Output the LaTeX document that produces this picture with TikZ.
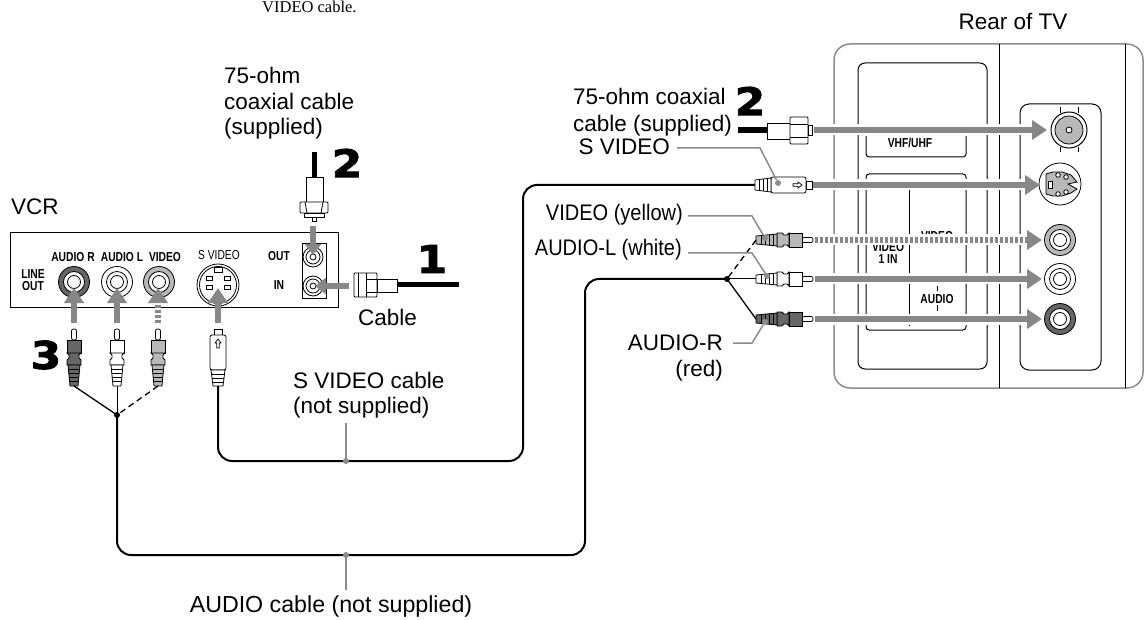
\documentclass[tikz,border=0pt]{standalone}
\usepackage{fontspec}
\setmainfont{Liberation Sans}
\newfontfamily\serifnote{Liberation Serif}
\newfontfamily\panelfont[FakeStretch=0.79]{Liberation Sans}
\newfontfamily\narrowfont[FakeStretch=0.89]{Liberation Sans}
\newfontfamily\stepfont[FakeStretch=1.15,FakeBold=2.5]{DejaVu Sans Bold}
\usetikzlibrary{arrows.meta}
\definecolor{arrowgray}{gray}{0.53}
\definecolor{leadgray}{gray}{0.55}
\definecolor{jackdark}{gray}{0.4}
\definecolor{jackmid}{gray}{0.72}
\tikzset{
  lbl/.style={font=\fontsize{22.5}{25.5}\selectfont,inner sep=0pt},
  narrowlbl/.style={font=\narrowfont\fontsize{22.5}{25.5}\selectfont,inner sep=0pt},
  panellbl/.style={font=\panelfont\bfseries\fontsize{13}{14}\selectfont,inner sep=0pt,align=center},
  stepnum/.style={font=\stepfont\fontsize{38}{38}\selectfont,inner sep=0pt},
  bigarrow/.style={arrowgray,line width=6pt,-{Triangle[length=15pt,width=19pt]}},
  dotarrow/.style={bigarrow,dash pattern=on 3pt off 2pt},
  halo/.style={white,line width=11pt,shorten >=15pt},
  leader/.style={leadgray,line width=1.5pt},
  leaddot/.style={circle,fill=leadgray,inner sep=0pt,minimum size=6pt},
  cable/.style={black,line width=2pt,rounded corners=14pt},
  dashwire/.style={line width=1.3pt,dash pattern=on 6pt off 4pt},
  pics/rcaplug/.style={code={
    \draw[line width=.8pt,fill=white,rounded corners=2pt] (-2.5,0) rectangle (2.5,11);
    \draw[line width=.8pt,fill=#1] (-7,11) rectangle (7,24);
    \draw[line width=.8pt,fill=#1] (-7,24) -- (-5,26) -- (-5,29) -- (-7,31) -- (-7,36) -- (7,36) -- (7,31) -- (5,29) -- (5,26) -- (7,24) -- cycle;
    \draw[line width=.8pt,fill=#1] (-6,36) -- (-4,57) -- (4,57) -- (6,36) -- cycle;
    \draw[line width=.7pt] (-5.6,40) -- (5.6,40) (-5.3,44) -- (5.3,44) (-4.9,48) -- (4.9,48) (-4.6,52) -- (4.6,52);
  }},
  pics/svplug/.style={code={
    \draw[line width=.8pt,fill=white] (-4,0) rectangle (4,6);
    \draw[line width=.8pt,fill=white,rounded corners=2pt] (-8,6) -- (8,6) -- (8,41) -- (-8,41) -- cycle;
    \draw[line width=.7pt] (0,10) -- (-3,14) -- (-1.3,14) -- (-1.3,19) -- (1.3,19) -- (1.3,14) -- (3,14) -- cycle;
    \draw[line width=.8pt,fill=white] (-7,41) -- (-5,57) -- (5,57) -- (7,41) -- cycle;
    \draw[line width=.7pt] (-6.5,45) -- (6.5,45) (-6,49) -- (6,49) (-5.6,53) -- (5.6,53);
  }},
  pics/rcajack/.style={code={
    \draw[line width=.8pt,fill=#1] (0,0) circle (15.5);
    \draw[line width=.8pt,fill=white] (0,0) circle (10.5);
    \draw[line width=.8pt,fill=white] (0,0) circle (6.5);
  }},
  pics/coaxjack/.style={code={
    \draw[line width=.8pt,fill=white] (0,0) circle (10);
    \draw[line width=.8pt] (0,0) circle (7);
    \draw[line width=.8pt] (0,0) circle (3);
  }}
}
\begin{document}
\begin{tikzpicture}[x=1pt,y=-1pt]
    \useasboundingbox (0,0) rectangle (1148,620);

    % top line and labels
    \node[font=\serifnote\fontsize{16.5}{18}\selectfont,inner sep=0pt,anchor=base west] (topnote) at (262,13) {VIDEO cable.};
    \node[lbl,anchor=base] (reartv) at (1013,30) {Rear of TV};
    \node[lbl,anchor=base west] (vcrlabel) at (11,215) {VCR};
    \node[lbl,anchor=base west] (coaxa) at (224,84) {75-ohm};
    \node[lbl,anchor=base west] (coaxb) at (224,110) {coaxial cable};
    \node[lbl,anchor=base west] (coaxc) at (224,135) {(supplied)};
    \node[lbl,anchor=base west] (cablelabel) at (358,325) {Cable};
    \node[lbl,anchor=base west] (svcablea) at (293,388) {S VIDEO cable};
    \node[lbl,anchor=base west] (svcableb) at (293,413) {(not supplied)};
    \node[lbl,font=\fontsize{23.2}{26}\selectfont,anchor=base] (audiocable) at (331,612) {AUDIO cable (not supplied)};
    \node[lbl,anchor=base west] (tvcoaxa) at (573,105) {75-ohm coaxial};
    \node[lbl,anchor=base west] (tvcoaxb) at (573,132) {cable (supplied)};
    \node[lbl,anchor=base east] (tvsv) at (670,155) {S VIDEO};
    \node[narrowlbl,anchor=base east] (tvvideo) at (683,221) {VIDEO (yellow)};
    \node[narrowlbl,anchor=base east] (tvaudl) at (682,256) {AUDIO-L (white)};
    \node[lbl,anchor=base east] (tvaudr) at (723,350) {AUDIO-R};
    \node[lbl,anchor=base east] (tvred) at (723,376) {(red)};

    % step numbers
    \node[stepnum] (stepone) at (432,259) {1};
    \node[stepnum] (steptwo) at (347,163) {2};
    \node[stepnum] (steptwotv) at (750,101) {2};
    \node[stepnum] (stepthree) at (46,355) {3};

    % VCR panel
    \draw [line width=1pt] (10,233) rectangle (338,307);
    \node[panellbl] (paudr) at (73,257) {AUDIO R};
    \node[panellbl] (paudl) at (122,257) {AUDIO L};
    \node[panellbl] (pvideo) at (165,257) {VIDEO};
    \node[font=\panelfont\fontsize{13}{14}\selectfont,inner sep=0pt] (psvideo) at (219,255) {S VIDEO};
    \node[panellbl] (pout) at (279,256) {OUT};
    \node[panellbl] (pin) at (279,285) {IN};
    \node[panellbl] (pline) at (33,280) {LINE\\[-2pt]OUT};
    \pic at (74,282) {rcajack=jackdark};
    \pic at (117,282) {rcajack=white};
    \pic at (159,282) {rcajack=jackmid};
    \draw [line width=.8pt,fill=white] (218,285) circle (21);
    \draw [line width=.8pt] (218,285) circle (18.5);
    \draw [line width=.8pt] (206,276) rectangle (212,280);
    \draw [line width=.8pt] (224,276) rectangle (230,280);
    \draw [line width=.8pt] (206,285) rectangle (212,289);
    \draw [line width=.8pt] (224,285) rectangle (230,289);
    \draw [line width=.8pt] (214,267) rectangle (222,272);
    \draw [line width=.8pt] (302,243) rectangle (326,298);
    \pic at (313,257) {coaxjack};
    \pic at (313,286) {coaxjack};

    % VCR plugs
    \pic at (74,329) {rcaplug=jackdark};
    \pic at (117,329) {rcaplug=white};
    \pic at (158,329) {rcaplug=jackmid};
    \pic at (218,329) {svplug};

    % top coax plug
    \draw [line width=5pt] (314,152) -- (314,177);
    \draw [line width=.8pt,fill=white] (306,177) rectangle (323,202);
    \draw [line width=.8pt,fill=white,rounded corners=1pt] (300,202) rectangle (328,213);
    \draw [line width=.8pt] (305,202) -- (307,213) (323,202) -- (321,213);
    \draw [line width=.8pt,fill=white] (304,213) rectangle (324,217);
    \draw [line width=.8pt,fill=white] (312,217) rectangle (316,221);

    % cable coax plug
    \draw [line width=5pt] (397,285) -- (459,285);
    \draw [line width=.8pt,fill=white] (377,279) rectangle (397,292);
    \draw [line width=.8pt,fill=white,rounded corners=1pt] (354,273) rectangle (377,297);
    \draw [line width=.8pt] (358,273) -- (358,297) (366,273) -- (366,297) (366,279) -- (377,279) (366,292) -- (377,292);

    % TV back
    \draw [leadgray,line width=1.5pt,rounded corners=16pt] (834,44) rectangle (1143,388);
    \draw [line width=1pt] (999,44) -- (999,388);
    \draw [line width=1pt] (1125,44) -- (1125,388);
    \draw [line width=1pt,rounded corners=7pt] (858,63) rectangle (987,369);
    \draw [line width=1pt,rounded corners=3pt] (866,136) -- (866,157) -- (966,157) -- (966,136);
    \draw [line width=1pt,rounded corners=3pt] (866,174) rectangle (966,330);
    \draw [line width=1pt] (909,179) -- (909,326);
    \draw [line width=1pt] (937,286) -- (937,291) (937,305) -- (937,311);
    \draw [line width=1pt,rounded corners=9pt] (1020,104) rectangle (1101,370);
    \node[panellbl] (tvvhf) at (910,143) {VHF/UHF};
    \node[panellbl,fill=white,inner sep=1pt] (tvsvideo) at (938,184) {S VIDEO};
    \node[panellbl,fill=white,inner sep=1pt] (tvvideoin) at (937,236) {VIDEO};
    \node[panellbl,fill=white,inner sep=1pt] (tvonein) at (888,253) {VIDEO\\[-2pt]1 IN};
    \node[panellbl,fill=white,inner sep=1pt] (tvaudio) at (937,299) {AUDIO};

    % TV jacks
    \draw [line width=1pt] (1060,107) -- (1060,113) (1078,107) -- (1078,113) (1060,147) -- (1060,152) (1078,147) -- (1078,152);
    \draw [line width=1pt,fill=white] (1069,130) circle (18);
    \draw [line width=.8pt,fill=jackmid] (1069,130) circle (14);
    \draw [line width=.8pt,fill=white] (1069,130) circle (3);
    \draw [line width=.8pt,fill=white] (1060,184) circle (21);
    \draw [line width=.8pt,fill=jackmid] (1046,174) -- (1053,172) -- (1062,172) -- (1071,175) -- (1077,182) -- (1068,184) -- (1077,189) -- (1071,193) -- (1062,196) -- (1053,196) -- (1046,194) -- cycle;
    \draw [line width=.8pt,fill=white] (1058,175) circle (2.3);
    \draw [line width=.8pt,fill=white] (1066,177) circle (2.3);
    \draw [line width=.8pt,fill=white] (1058,194) circle (2.3);
    \draw [line width=.8pt,fill=white] (1066,192) circle (2.3);
    \draw [line width=.8pt,fill=white] (1048,181) rectangle (1052,188);
    \pic at (1060,240) {rcajack=jackmid};
    \pic at (1060,279) {rcajack=white};
    \pic at (1060,319) {rcajack=jackdark};

    % named arrow ends
    \coordinate (vhfstart) at (814,130);
    \coordinate (vhfjack) at (1047,130);
    \coordinate (svstart) at (813,185);
    \coordinate (svjack) at (1040,185);
    \coordinate (vidstart) at (815,240);
    \coordinate (vidjack) at (1042,240);
    \coordinate (audlstart) at (815,279);
    \coordinate (audljack) at (1042,279);
    \coordinate (audrstart) at (815,319);
    \coordinate (audrjack) at (1042,319);

    \draw [halo] (vhfstart) -- (vhfjack);
    \draw [halo] (svstart) -- (svjack);
    \draw [halo] (vidstart) -- (vidjack);
    \draw [halo] (audlstart) -- (audljack);
    \draw [halo] (audrstart) -- (audrjack);
    \draw [bigarrow] (vhfstart) -- (vhfjack);
    \draw [bigarrow] (svstart) -- (svjack);
    \draw [dotarrow] (vidstart) -- (vidjack);
    \draw [bigarrow] (audlstart) -- (audljack);
    \draw [bigarrow] (audrstart) -- (audrjack);

    % VCR arrows
    \coordinate (vcrrstart) at (74,323);
    \coordinate (vcrrjack) at (74,288);
    \coordinate (vcrlstart) at (117,323);
    \coordinate (vcrljack) at (117,288);
    \coordinate (vcrvstart) at (158,323);
    \coordinate (vcrvjack) at (158,288);
    \coordinate (vcrsstart) at (218,323);
    \coordinate (vcrsjack) at (218,288);
    \coordinate (outstart) at (313,226);
    \coordinate (outjack) at (313,255);
    \coordinate (instart) at (349,286);
    \coordinate (injack) at (315,286);
    \draw [bigarrow] (vcrrstart) -- (vcrrjack);
    \draw [bigarrow] (vcrlstart) -- (vcrljack);
    \draw [dotarrow] (vcrvstart) -- (vcrvjack);
    \draw [bigarrow] (vcrsstart) -- (vcrsjack);
    \draw [bigarrow,-{Triangle[length=11pt,width=16pt]}] (outstart) -- (outjack);
    \draw [bigarrow,-{Triangle[length=11pt,width=16pt]}] (instart) -- (injack);

    % TV side plugs
    \draw [line width=6pt] (738,130) -- (767,130);
    \draw [line width=.8pt,fill=white] (767,123) rectangle (790,139);
    \draw [line width=.8pt,fill=white,rounded corners=1pt] (790,117) rectangle (808,144);
    \draw [line width=.8pt] (790,124) -- (808,124) (790,137) -- (808,137);
    \draw [line width=.8pt,fill=white] (808,125) rectangle (812,135);
    \pic[rotate=-90] at (812,185) {svplug};
    \pic[rotate=-90] at (813,240) {rcaplug=jackmid};
    \pic[rotate=-90] at (813,279) {rcaplug=white};
    \pic[rotate=-90] at (813,319) {rcaplug=jackdark};

    % cables
    \coordinate (svplugvcr) at (218,386);
    \coordinate (svplugtv) at (755,185);
    \coordinate (joinvcr) at (117,415);
    \coordinate (jointv) at (727,279);
    \coordinate (plugr) at (74,386);
    \coordinate (plugl) at (117,386);
    \coordinate (plugv) at (158,386);
    \coordinate (plugtvv) at (756,240);
    \coordinate (plugtvl) at (756,279);
    \coordinate (plugtvr) at (756,319);
    \draw [cable] (svplugvcr) -- (218,461) -- (523,461) -- (523,185) -- (svplugtv);
    \draw [cable] (joinvcr) -- (117,555) -- (585,555) -- (585,279) -- (jointv);
    \draw [line width=1pt] (plugl) -- (joinvcr);
    \draw [line width=1.3pt] (plugr) -- (joinvcr);
    \draw [dashwire] (plugv) -- (joinvcr);
    \draw [line width=1pt] (plugtvl) -- (jointv);
    \draw [line width=1.3pt] (plugtvr) -- (jointv);
    \draw [dashwire] (plugtvv) -- (jointv);
    \fill (joinvcr) circle (3);
    \fill (jointv) circle (3);

    % leaders
    \node[leaddot] (dotsv) at (778,183) {};
    \node[leaddot] (dotvid) at (765,238) {};
    \node[leaddot] (dotaudl) at (767,276) {};
    \node[leaddot] (dotaudr) at (765,322) {};
    \node[leaddot] (dotsvcable) at (346,461) {};
    \node[leaddot] (dotaudiocable) at (346,555) {};
    \coordinate (svleadstart) at (677,148);
    \coordinate (vidleadstart) at (688,216);
    \coordinate (audlleadstart) at (688,253);
    \coordinate (audrleadstart) at (733,343);
    \coordinate (svcableend) at (346,423);
    \coordinate (audiocableend) at (346,590);
    \draw [leader] (svleadstart) -- (760,148) -- (dotsv);
    \draw [leader] (vidleadstart) -- (752,216) -- (dotvid);
    \draw [leader] (audlleadstart) -- (752,253) -- (dotaudl);
    \draw [leader] (audrleadstart) -- (752,343) -- (dotaudr);
    \draw [leader] (svcableend) -- (dotsvcable);
    \draw [leader] (audiocableend) -- (dotaudiocable);
  \end{tikzpicture}
\end{document}
